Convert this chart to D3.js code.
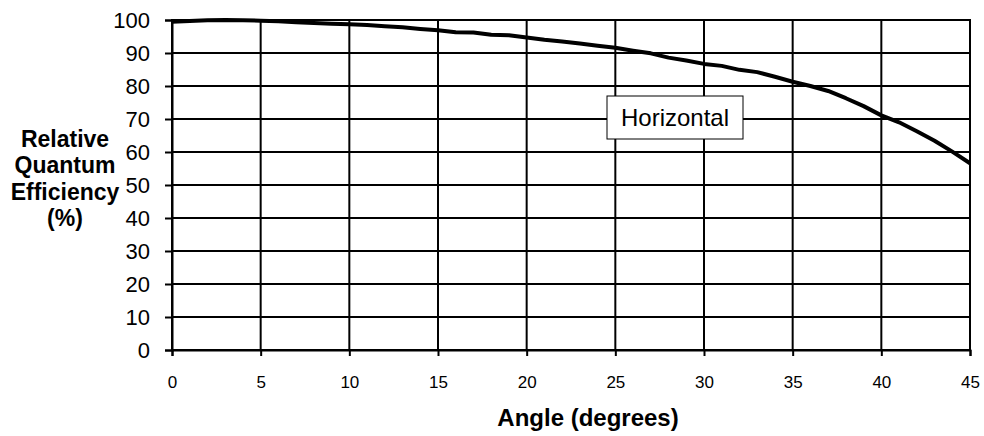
<!DOCTYPE html>
<html>
<head>
<meta charset="utf-8">
<script src="https://cdn.jsdelivr.net/npm/d3@7"></script>
<style>
  body { margin: 0; background: #fff; }
  svg { display: block; font-family: "Liberation Sans", Arial, sans-serif; }
</style>
</head>
<body>
<svg id="chart" width="984" height="436"></svg>
<script>
// angle in degrees, relative QE in %
const angles = [0, 1, 2, 3, 4, 5, 6, 7, 8, 9, 10, 11, 12, 13, 14, 15, 16, 17, 18, 19, 20, 21, 22,
  23, 24, 25, 26, 27, 28, 29, 30, 31, 32, 33, 34, 35, 36, 37, 38, 39, 40, 41, 42, 43, 44, 45];
const efficiency = [99.5, 99.7, 99.9, 100, 99.9, 99.8, 99.6, 99.3, 99.1, 98.9, 98.7, 98.5, 98.1, 97.8, 97.3, 96.9,
  96.3, 96.2, 95.5, 95.4, 94.7, 94.0, 93.5, 92.9, 92.2, 91.6, 90.7, 89.9, 88.6, 87.7, 86.7,
  86.1, 84.9, 84.2, 82.8, 81.3, 80.0, 78.5, 76.3, 73.9, 71.1, 69.0, 66.3, 63.4, 60.1, 56.6];
const xTicks = [0, 5, 10, 15, 20, 25, 30, 35, 40, 45];
const yTicks = [0, 10, 20, 30, 40, 50, 60, 70, 80, 90, 100];
const yTitle = ["Relative", "Quantum", "Efficiency", "(%)"];
const seriesLabel = "Horizontal";

const svg = d3.select("#chart");
const plotL = 172, plotR = 970, plotT = 20, plotB = 350;

const x = d3.scaleLinear().domain([0, 45]).range([plotL, plotR]);
const y = d3.scaleLinear().domain([0, 100]).range([plotB, plotT]);

// grid
svg.append("g")
  .selectAll("line")
  .data(xTicks)
  .join("line")
  .attr("x1", d => x(d)).attr("x2", d => x(d))
  .attr("y1", plotT).attr("y2", plotB)
  .attr("stroke", "#000").attr("stroke-width", 2);

svg.append("g")
  .selectAll("line")
  .data(yTicks)
  .join("line")
  .attr("x1", plotL).attr("x2", plotR)
  .attr("y1", d => y(d)).attr("y2", d => y(d))
  .attr("stroke", "#000").attr("stroke-width", 2);

// axes
const yAxis = d3.axisLeft(y).tickValues(yTicks).tickSize(7).tickPadding(15);
svg.append("g")
  .attr("transform", "translate(" + plotL + ",0)")
  .call(yAxis)
  .call(g => g.select(".domain").attr("stroke-width", 2))
  .call(g => g.selectAll(".tick line").attr("stroke-width", 2))
  .call(g => g.selectAll("text").attr("font-size", 22).attr("fill", "#000")
    .attr("font-family", "Liberation Sans, Arial, sans-serif"));

const xAxis = d3.axisBottom(x).tickValues(xTicks).tickSize(6).tickPadding(20);
svg.append("g")
  .attr("transform", "translate(0," + plotB + ")")
  .call(xAxis)
  .call(g => g.select(".domain").attr("stroke-width", 2))
  .call(g => g.selectAll(".tick line").attr("stroke-width", 2))
  .call(g => g.selectAll("text").attr("font-size", 17).attr("fill", "#000")
    .attr("font-family", "Liberation Sans, Arial, sans-serif"));

// frame
svg.append("rect")
  .attr("x", plotL).attr("y", plotT)
  .attr("width", plotR - plotL).attr("height", plotB - plotT)
  .attr("fill", "none").attr("stroke", "#000").attr("stroke-width", 2);

// curve
const line = d3.line()
  .x((d, i) => x(angles[i]))
  .y(d => y(d));
svg.append("path")
  .datum(efficiency)
  .attr("d", line)
  .attr("fill", "none")
  .attr("stroke", "#000")
  .attr("stroke-width", 4)
  .attr("stroke-linejoin", "round");

// series label box
const bx = 607, by = 96, bw = 136, bh = 43;
svg.append("rect")
  .attr("x", bx).attr("y", by).attr("width", bw).attr("height", bh)
  .attr("fill", "#fff").attr("stroke", "#000").attr("stroke-width", 1);
svg.append("text")
  .attr("x", bx + bw / 2).attr("y", by + 30)
  .attr("text-anchor", "middle")
  .attr("font-size", 24)
  .text(seriesLabel);

// titles
svg.append("text")
  .attr("x", 588).attr("y", 426)
  .attr("text-anchor", "middle")
  .attr("font-size", 24).attr("font-weight", "bold")
  .text("Angle (degrees)");

svg.append("g")
  .selectAll("text")
  .data(yTitle)
  .join("text")
  .attr("x", 65)
  .attr("y", (d, i) => 147 + i * 26.4)
  .attr("text-anchor", "middle")
  .attr("font-size", 23).attr("font-weight", "bold")
  .text(d => d);
</script>
</body>
</html>
